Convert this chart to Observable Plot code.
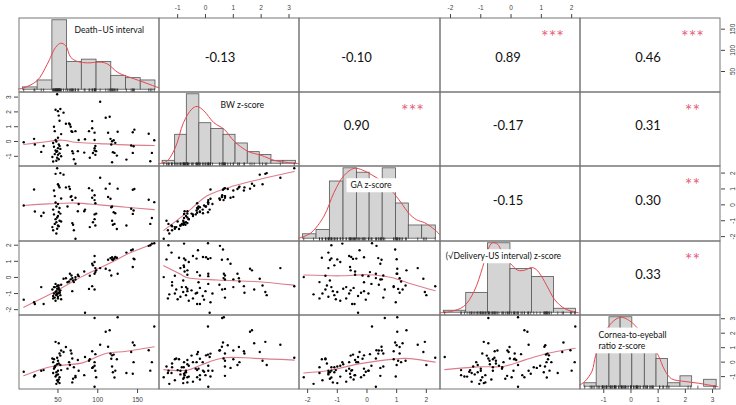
<!DOCTYPE html>
<html>
<head>
<meta charset="utf-8">
<script src="https://cdn.jsdelivr.net/npm/d3@7"></script>
<script src="https://cdn.jsdelivr.net/npm/@observablehq/plot@0.6"></script>
<style>
  html, body { margin: 0; padding: 0; background: #fff; }
  #chart { position: relative; width: 736px; height: 405px; overflow: hidden; background: #fff; }
  #chart svg { position: absolute; overflow: visible; }
</style>
</head>
<body>
<div id="chart"></div>
<script>
// ---- Observations (one entry per infant) ----
const deathUS = [7,20,21,29,32, 49,47,50,53,51,52,45,46,54,50,48,44,51,45,50,53,47,49,48,52,46,50,54,43,49,51,48,44,52,47, 57,60,64,65,66,67,68,68,69,70,72,72,75,76,62, 83,84,89,93,96,96,96,94,97,98,96,97,93,90, 103,110,115,117,125,113,116,118,120,122,119,121,124,118, 136,142,144,145,146,144, 164,166,168,171];
const bwZ = [-0.05,0.18,-0.2,-0.7,-0.3, 3.19,2.15,2.05,2.2,1.75,1.4,1.0,0.7,0.5,0.25,0.0,-0.1,-0.2,-0.35,-0.45,-0.5,-0.6,-0.65,-0.7,-0.8,-0.85,-0.9,-1.0,-1.05,-1.1,-1.2,-1.3,-1.35,-0.3,0.1, 1.95,1.2,1.22,1.15,1.0,0.7,0.65,-0.65,-0.8,-1.2,-1.5,0.7,-0.65,0.1,-0.25, -0.75,0.15,0.7,1.38,0.6,-0.45,-0.6,-0.78,-0.9,-0.65,0.1,-0.3,0.9,-1.1, 2.69,1.6,1.67,-0.2,0.66,0.59,0.18,0.02,0.09,-0.09,-0.72,-0.77,-0.95,-1.4, -1.22,-0.27,0.63,-0.32,0.8,-0.77, 0.52,-1.33,-0.77,0.09];
const gaZ = [-0.04,0.97,-0.42,-0.7,-0.5, 2.3,1.95,1.3,2.0,1.2,1.1,0.9,0.55,0.4,0.05,-0.1,-0.3,-0.45,-0.6,-0.7,-0.55,-0.9,-0.8,-1.1,-1.0,-1.2,-1.3,-1.05,-1.4,-1.5,-1.35,-1.8,-1.6,-0.2,0.15, 1.9,1.1,1.15,1.0,0.5,0.55,0.3,-1.15,-1.25,-1.6,-2.13,0.45,-0.4,0.05,-0.1, -0.4,-0.3,1.05,0.9,0.6,-0.6,-0.9,-1.1,-1.3,-0.55,0.3,0.1,0.45,-1.4, 1.71,1.02,1.33,-0.15,1.02,0.49,0.38,-0.1,-0.47,-0.53,-1.25,-1.2,-1.52,-1.0, -1.3,-0.25,0.95,-0.36,1.0,-0.57, 0.32,-1.2,-0.83,0.17];
const deliveryZ = [-1.38,-1.54,-1.65,-0.6,-1.65, -0.55,-0.9,-0.5,-1.1,-0.75,-0.95,-0.6,-1.25,-0.45,-1.0,-0.85,-1.15,-0.65,-1.0,-1.3,-0.8,-1.45,-0.7,-1.1,-0.9,-0.6,-1.2,-1.35,-0.75,-1.0,-0.5,-1.05,-1.3,-0.95,-0.4, -0.08,-0.05,-0.25,0.23,-0.12,0.12,-0.04,-0.85,-0.19,-0.29,0.02,-0.13,0.17,0.08,-0.3, 0.37,-2.19,-0.71,-0.54,-0.75,1.33,0.96,0.75,0.58,0.44,0.23,0.33,0.85,0.1, 0.58,0.54,0.44,0.12,0.23,1.1,1.2,1.25,1.15,1.27,1.08,1.18,1.22,1.12, 1.54,1.69,1.73,1.17,1.13,0.65, 1.96,2.0,2.1,2.12];
const corneaZ = [-0.66,-0.99,-0.9,-0.6,-0.55, 0.3,1.4,0.1,-0.2,1.3,0.6,0.2,-0.3,0.8,-0.6,-0.9,0.0,-1.2,-0.45,-1.35,0.45,-1.0,-0.15,-0.7,-1.45,-0.35,-0.85,-0.55,0.25,-1.25,-0.1,-1.5,-0.75,-1.05,-0.25, 0.7,1.05,0.0,-0.2,0.8,0.6,0.25,-1.4,-1.15,-0.35,-1.05,-0.95,0.15,-0.6,-0.45, -0.9,0.35,0.1,0.75,3.05,0.0,-0.25,-0.35,-0.6,-1.05,-1.7,0.55,-0.4,0.2, 1.2,2.1,2.2,0.23,3.1,1.06,0.59,0.47,0.52,-0.59,-0.7,-1.06,0.2,-0.3, -0.75,0.7,1.36,0.0,1.17,-0.8, 0.82,-0.59,0.0,2.46];

const varNames = ["Death–US interval", "BW z-score", "GA z-score", "(√Delivery-US interval) z-score", "Cornea-to-eyeball\nratio z-score"];

// ---- Histograms: bin breaks and counts ----
const deathBreaks = [6, 24.5, 43, 61.5, 80, 98.5, 117, 135.5, 154, 172.5];
const deathCounts = [1, 4, 30, 12, 13, 12, 6, 5, 4];
const bwBreaks = [-1.54, -1.09, -0.67, -0.22, 0.21, 0.65, 1.08, 1.52, 1.95, 2.37, 2.8, 3.25];
const bwCounts = [1, 10, 24, 14, 12, 10, 7, 4, 3, 1, 1];
const gaBreaks = [-2.16, -1.7, -1.25, -0.79, -0.34, 0.09, 0.53, 0.98, 1.41, 1.86, 2.32];
const gaCounts = [1, 2, 13, 16, 15, 13, 16, 8, 3, 3];
const deliveryBreaks = [-2.22, -1.48, -0.76, -0.02, 0.69, 1.42, 2.14];
const deliveryCounts = [1, 10, 35, 22, 18, 2];
const corneaBreaks = [-1.71, -1.26, -0.79, -0.38, 0.05, 0.51, 0.94, 1.36, 1.82, 2.25, 2.69, 3.15];
const corneaCounts = [1, 11, 20, 20, 11, 11, 8, 1, 3, 0, 2];

// ---- Kernel density curves (value, height in count units) ----
const deathDensity = [[0,0.3],[6,0.7],[23.8,3.9],[36.5,11],[47.1,18.3],[53.4,20.1],[59.8,19],[66.1,14],[74.6,12.2],[87.4,11.6],[104.3,11.9],[112.8,11],[125.5,7.4],[146.6,4.6],[163.6,2.5],[172.9,1.3],[177.5,0.8]];
const bwDensity = [[-1.69,0],[-1.4,0.76],[-1.09,5.4],[-0.79,14.2],[-0.49,18.9],[-0.3,19.8],[-0.06,18.3],[0.3,14.2],[0.67,11.9],[1.03,7.8],[1.52,4.3],[2.0,2.9],[2.49,1.1],[2.98,0.4],[3.4,0]];
const gaDensity = [[-2.31,0.1],[-1.91,1.2],[-1.45,5.1],[-1.11,10.5],[-0.77,14.4],[-0.43,16],[-0.15,15.6],[0.14,14.6],[0.53,12.9],[0.82,11],[1.16,8.1],[1.39,5.9],[1.67,4.3],[1.95,3.6],[2.29,2.0],[2.46,0.9]];
const deliveryDensity = [[-2.33,0],[-2.0,0.6],[-1.56,3.2],[-1.22,10.8],[-0.94,22.8],[-0.78,31.3],[-0.61,35.3],[-0.44,34.4],[-0.22,27.9],[0,24.5],[0.22,21.4],[0.44,21.4],[0.67,22.8],[0.83,21.8],[1.0,18.5],[1.22,12.5],[1.44,6.6],[1.78,1.96],[2.22,0]];
const corneaDensity = [[-1.92,0.3],[-1.7,1.5],[-1.43,4.5],[-1.3,9.0],[-1.0,15],[-0.7,18.5],[-0.38,20],[-0.05,19],[0.4,15.5],[0.8,11.5],[1.0,9.1],[1.24,4.8],[1.49,2.3],[1.99,1.5],[2.49,1.0],[3.2,0]];

// ---- Lowess smooths for the scatter panels (x, y) ----
const smoothBwDeath = [[7,-0.2],[30,-0.05],[55,0.09],[72,-0.05],[102,-0.14],[136,-0.23],[171,-0.27]];
const smoothGaDeath = [[7,-0.04],[38,0.06],[72,0.11],[102,0.0],[136,-0.15],[171,-0.3]];
const smoothDeliveryDeath = [[7,-1.85],[40,-1.05],[60,-0.5],[80,0.05],[102,0.58],[120,1.0],[136,1.42],[171,2.1]];
const smoothCorneaDeath = [[7,-0.94],[38,-0.35],[60,-0.19],[81,-0.05],[110,0.59],[136,0.75],[171,1.06]];
const smoothGaBw = [[-1.5,-1.61],[-0.67,-0.49],[0.06,0.57],[1.03,1.2],[2.0,1.63],[3.19,2.1]];
const smoothDeliveryBw = [[-1.5,0.73],[-0.91,0.21],[-0.67,0.0],[0.43,-0.16],[1.76,-0.25],[3.19,-0.48]];
const smoothCorneaBw = [[-1.5,-0.52],[-0.67,-0.56],[-0.18,-0.21],[0.67,0.3],[1.76,0.26],[3.19,0.14]];
const smoothDeliveryGa = [[-2.13,0.15],[-0.89,0.1],[0.02,0.17],[0.82,0.0],[1.5,-0.41],[2.3,-0.83]];
const smoothCorneaGa = [[-2.13,-0.75],[-1.23,-0.56],[-0.32,-0.14],[0.82,0.19],[1.27,0.26],[2.3,0.0]];
const smoothCorneaDelivery = [[-2.19,-0.52],[-1.11,-0.33],[-0.22,-0.28],[0.44,0.14],[1.22,0.61],[2.12,0.96]];

// ---- Pearson correlations for the upper panels ----
const corrPairs = [[0,1],[0,2],[0,3],[0,4],[1,2],[1,3],[1,4],[2,3],[2,4],[3,4]];
const corrValues = [-0.13, -0.10, 0.89, 0.46, 0.90, -0.17, 0.31, -0.15, 0.30, 0.33];
const corrStars = ["", "", "***", "***", "***", "", "**", "", "**", "**"];

// ---- Outer axis tick values per variable ----
const axisTicks = [[50, 100, 150], [-1, 0, 1, 2, 3], [-2, -1, 0, 1, 2], [-2, -1, 0, 1, 2], [-1, 0, 1, 2, 3]];

// ---- Assemble ----
const vars = [deathUS, bwZ, gaZ, deliveryZ, corneaZ];
const hists = [
  {breaks: deathBreaks, counts: deathCounts, density: deathDensity},
  {breaks: bwBreaks, counts: bwCounts, density: bwDensity},
  {breaks: gaBreaks, counts: gaCounts, density: gaDensity},
  {breaks: deliveryBreaks, counts: deliveryCounts, density: deliveryDensity},
  {breaks: corneaBreaks, counts: corneaCounts, density: corneaDensity}
];
const smooths = {
  "1-0": smoothBwDeath, "2-0": smoothGaDeath, "3-0": smoothDeliveryDeath, "4-0": smoothCorneaDeath,
  "2-1": smoothGaBw, "3-1": smoothDeliveryBw, "4-1": smoothCorneaBw,
  "3-2": smoothDeliveryGa, "4-2": smoothCorneaGa, "4-3": smoothCorneaDelivery
};
const N = deathUS.length;
const idx = d3.range(N);

// each variable spans its range plus 4% on either side
const domains = vars.map(v => {
  const [a, b] = d3.extent(v);
  const pad = (b - a) * 0.04;
  return [a - pad, b + pad];
});

// grid layout (pixel edges of the 5 x 5 panels)
const colEdges = [18, 158, 298, 439, 579, 719];
const rowEdges = [17, 91, 165, 240, 314, 388];
// label placement inside the diagonal panels: [dx, dy] from the top-left corner
const labelOffsets = [[56, 12], [62, 13], [52, 19], [6.3, 15], [19, 25.2]];

const frameColor = "#777";
const densityColor = "#e6474f";
const smoothColor = "#dc7d8b";
const starColor = "#e8607c";
const textFont = "Lato, 'Open Sans', sans-serif";
const axisFont = "'Liberation Sans', Arial, sans-serif";

const chart = document.getElementById("chart");
const baseStyle = {overflow: "visible", background: "transparent", fontFamily: textFont, color: "#222"};

function place(svg, i, j) {
  svg.style.position = "absolute";
  svg.style.left = colEdges[j] + "px";
  svg.style.top = rowEdges[i] + "px";
  chart.appendChild(svg);
  return svg;
}

function size(i, j) {
  return {w: colEdges[j + 1] - colEdges[j] + 1, h: rowEdges[i + 1] - rowEdges[i] + 1};
}

function scatterPanel(i, j) {
  const {w, h} = size(i, j);
  return Plot.plot({
    width: w, height: h, margin: 0, style: baseStyle,
    x: {domain: domains[j], axis: null},
    y: {domain: domains[i], axis: null},
    marks: [
      Plot.frame({stroke: frameColor, inset: 0.5}),
      Plot.line(smooths[`${i}-${j}`], {x: d => d[0], y: d => d[1], stroke: smoothColor, strokeWidth: 1.1, curve: "catmull-rom"}),
      Plot.dot(idx, {x: k => vars[j][k], y: k => vars[i][k], r: 1.2, fill: "#000"})
    ]
  });
}

function histPanel(i) {
  const {w, h} = size(i, i);
  const hs = hists[i];
  const M = d3.max(hs.counts);
  const y0 = -0.04 * M;
  const bars = hs.counts.map((c, k) => ({x1: hs.breaks[k], x2: hs.breaks[k + 1], n: c}));
  const [dx, dy] = labelOffsets[i];
  return Plot.plot({
    width: w, height: h, margin: 0, style: baseStyle,
    x: {domain: domains[i], axis: null},
    y: {domain: [y0, 1.04 * M], axis: null},
    marks: [
      Plot.rect(bars, {x1: "x1", x2: "x2", y1: 0, y2: "n", fill: "#d4d4d4", stroke: "#555", strokeWidth: 0.8}),
      Plot.line(hs.density, {x: d => d[0], y: d => d[1], stroke: densityColor, strokeWidth: 1, curve: "catmull-rom", clip: true}),
      Plot.ruleX(vars[i], {y1: y0, y2: y0 + 0.05 * M, stroke: "#222", strokeWidth: 0.7}),
      Plot.frame({stroke: frameColor, inset: 0.5}),
      Plot.text([varNames[i]], {frameAnchor: "top-left", dx, dy, textAnchor: "start", lineAnchor: "middle", fontSize: 8.6, lineHeight: 1.36, fill: "#111"})
    ]
  });
}

function corrPanel(i, j) {
  const {w, h} = size(i, j);
  const k = corrPairs.findIndex(([a, b]) => a === i && b === j);
  const colShift = [0, -9, -13, -2, -2][j];
  const rowShift = i === 0 ? 3 : -3;
  const marks = [
    Plot.frame({stroke: frameColor, inset: 0.5}),
    Plot.text([corrValues[k].toFixed(2)], {frameAnchor: "middle", dx: colShift, dy: rowShift, fontSize: 13, fill: "#111"})
  ];
  if (corrStars[k]) {
    marks.push(Plot.text([corrStars[k]], {frameAnchor: "top-right", dx: -28, dy: 19.5, textAnchor: "middle", lineAnchor: "middle", fontSize: 18, fill: starColor}));
  }
  return Plot.plot({
    width: w, height: h, margin: 0, style: baseStyle,
    x: {domain: domains[j], axis: null},
    y: {domain: domains[i], axis: null},
    marks
  });
}

// outer axes, drawn on the variable's own scale
function axisPanel(i, j, side) {
  const {w, h} = size(i, j);
  const horizontal = side === "top" || side === "bottom";
  const ticks = axisTicks[horizontal ? j : i];
  const marks = horizontal
    ? [Plot.axisX(ticks, {anchor: side, tickSize: 4, tickPadding: 3.5, tickFormat: d => String(d), fontSize: 6.5, fontFamily: axisFont, label: null})]
    : [
        Plot.axisY(ticks, {anchor: side, tickSize: 4, tickFormat: () => "", label: null}),
        Plot.text(ticks, {y: d => d, frameAnchor: side, dx: side === "left" ? -9.5 : 12.5, rotate: -90, textAnchor: "middle", lineAnchor: "middle", text: d => String(d), fontSize: 6.5, fontFamily: axisFont, fill: "#333"})
      ];
  return Plot.plot({
    width: w, height: h, margin: 0, style: {...baseStyle, color: "#444"},
    x: {domain: domains[j], axis: null},
    y: {domain: domains[i], axis: null},
    marks
  });
}

for (let i = 0; i < 5; ++i) {
  for (let j = 0; j < 5; ++j) {
    let svg;
    if (i > j) svg = scatterPanel(i, j);
    else if (i < j) svg = corrPanel(i, j);
    else svg = histPanel(i);
    place(svg, i, j);
    if (i === j) {
      // white box behind the variable name
      const groups = svg.querySelectorAll('g[aria-label="text"]');
      const g = groups[groups.length - 1];
      const bb = g.getBBox();
      const rect = document.createElementNS("http://www.w3.org/2000/svg", "rect");
      rect.setAttribute("x", bb.x - 4);
      rect.setAttribute("y", bb.y - 2);
      rect.setAttribute("width", bb.width + 8);
      rect.setAttribute("height", bb.height + 4);
      rect.setAttribute("fill", "#fff");
      g.insertBefore(rect, g.firstChild);
    }
  }
}

// R-style alternating outer axes
for (let j = 0; j < 5; ++j) {
  if (j % 2 === 1) place(axisPanel(0, j, "top"), 0, j);
  else place(axisPanel(4, j, "bottom"), 4, j);
}
for (let i = 0; i < 5; ++i) {
  if (i % 2 === 1) place(axisPanel(i, 0, "left"), i, 0);
  else place(axisPanel(i, 4, "right"), i, 4);
}
</script>
</body>
</html>
